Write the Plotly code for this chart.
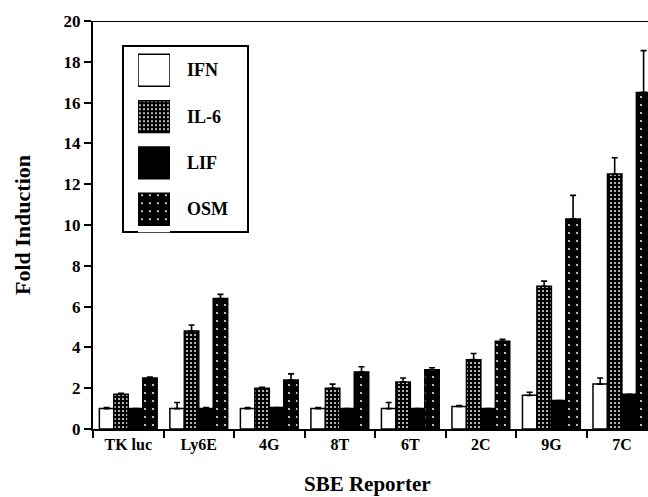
import plotly.graph_objects as go

categories = ["TK luc", "Ly6E", "4G", "8T", "6T", "2C", "9G", "7C"]
series_names = ["IFN", "IL-6", "LIF", "OSM"]
ifn = [1.0, 1.0, 1.0, 1.0, 1.0, 1.1, 1.65, 2.2]
ifn_err = [0.05, 0.3, 0.05, 0.05, 0.3, 0.05, 0.15, 0.3]
il6 = [1.7, 4.8, 2.0, 2.0, 2.3, 3.4, 7.0, 12.5]
il6_err = [0.05, 0.3, 0.05, 0.2, 0.2, 0.3, 0.25, 0.8]
lif = [1.0, 1.0, 1.05, 1.0, 1.0, 1.0, 1.4, 1.7]
lif_err = [0.0, 0.05, 0.0, 0.0, 0.0, 0.0, 0.0, 0.0]
osm = [2.5, 6.4, 2.4, 2.8, 2.9, 4.3, 10.3, 16.5]
osm_err = [0.05, 0.2, 0.3, 0.25, 0.1, 0.1, 1.15, 2.05]
y_ticks = [0, 2, 4, 6, 8, 10, 12, 14, 16, 18, 20]

FONT = "Liberation Serif"
styles = {
    "IFN": dict(color="white", pattern=None),
    "IL-6": dict(color="black", pattern=dict(shape=".", fgcolor="white", bgcolor="black",
                                               size=4, solidity=0.17, fillmode="replace")),
    "LIF": dict(color="black", pattern=None),
    "OSM": dict(color="black", pattern=dict(shape=".", fgcolor="white", bgcolor="black",
                                              size=8, solidity=0.05, fillmode="replace")),
}

fig = go.Figure()
data = [(ifn, ifn_err), (il6, il6_err), (lif, lif_err), (osm, osm_err)]
for name, (vals, errs) in zip(series_names, data):
    st = styles[name]
    marker = dict(color=st["color"], line=dict(color="black", width=1.5))
    if st["pattern"]:
        marker["pattern"] = st["pattern"]
    fig.add_trace(go.Bar(
        x=categories, y=vals, name=name, marker=marker, showlegend=False,
        error_y=dict(type="data", array=errs, arrayminus=[0] * len(errs), symmetric=False,
                     color="black", thickness=1.6, width=3),
        xaxis="x", yaxis="y",
    ))

# Legend drawn as an inset of swatches
for i, name in enumerate(series_names):
    st = styles[name]
    marker = dict(color=st["color"], line=dict(color="black", width=1.5))
    if st["pattern"]:
        marker["pattern"] = st["pattern"]
    fig.add_trace(go.Bar(
        y=[name], x=[1], orientation="h", marker=marker, width=0.69,
        showlegend=False, xaxis="x2", yaxis="y2", hoverinfo="skip",
    ))

W, H = 648, 497
L, R, T, B = 93, 0, 21, 68
pw, ph = W - L - R, H - T - B

def px(x):
    return (x - L) / pw

def py(y):
    return (H - B - y) / ph

fig.update_layout(
    width=W, height=H,
    margin=dict(l=L, r=R, t=T, b=B),
    paper_bgcolor="white", plot_bgcolor="white",
    barmode="group", bargap=0.18, bargroupgap=0,
    font=dict(family=FONT, color="black"),
    xaxis=dict(
        type="category", range=[-0.5, 7.37], tickson="boundaries",
        ticks="outside", ticklen=7, tickwidth=1.5, tickcolor="black",
        showline=True, linecolor="black", linewidth=2, showgrid=False, zeroline=False,
        tickfont=dict(family=FONT, size=16, color="black", weight="bold"),
    ),
    yaxis=dict(
        range=[0, 20], tickvals=y_ticks, ticks="outside", ticklen=7, tickwidth=1.5,
        tickcolor="black", showline=True, linecolor="black", linewidth=2,
        showgrid=False, zeroline=False,
        tickfont=dict(family=FONT, size=17, color="black", weight="bold"),
    ),
    xaxis2=dict(domain=[px(138), px(170)], range=[0, 1], anchor="y2", visible=False,
                fixedrange=True),
    yaxis2=dict(domain=[py(232.3), py(47.2)], anchor="x2", visible=False,
                range=[3.5, -0.5], type="category", categoryorder="array",
                categoryarray=series_names, fixedrange=True),
    showlegend=False,
)

fig.add_shape(type="line", xref="paper", yref="y", x0=0, x1=1, y0=20, y1=20,
              line=dict(color="black", width=2))
fig.add_shape(type="rect", xref="paper", yref="paper",
              x0=px(123), x1=px(248), y0=py(232), y1=py(46),
              line=dict(color="black", width=2), fillcolor="rgba(0,0,0,0)", layer="below")

centers = [70, 117, 163, 209]
for name, cy in zip(series_names, centers):
    fig.add_annotation(text=name, xref="paper", yref="paper", x=px(185), y=py(cy),
                       xanchor="left", yanchor="middle", showarrow=False,
                       font=dict(family=FONT, size=18, color="black", weight="bold"))

fig.add_annotation(text="Fold Induction", xref="paper", yref="paper", x=px(22), y=py(225),
                   textangle=-90, xanchor="center", yanchor="middle", showarrow=False,
                   font=dict(family=FONT, size=22, color="black", weight="bold"))
fig.add_annotation(text="SBE Reporter", xref="paper", yref="paper", x=px(367), y=py(484),
                   xanchor="center", yanchor="middle", showarrow=False,
                   font=dict(family=FONT, size=21, color="black", weight="bold"))

fig.write_html("out.html", config={"displayModeBar": False},
               post_script="document.body.style.margin='0';document.body.style.overflow='hidden';")
